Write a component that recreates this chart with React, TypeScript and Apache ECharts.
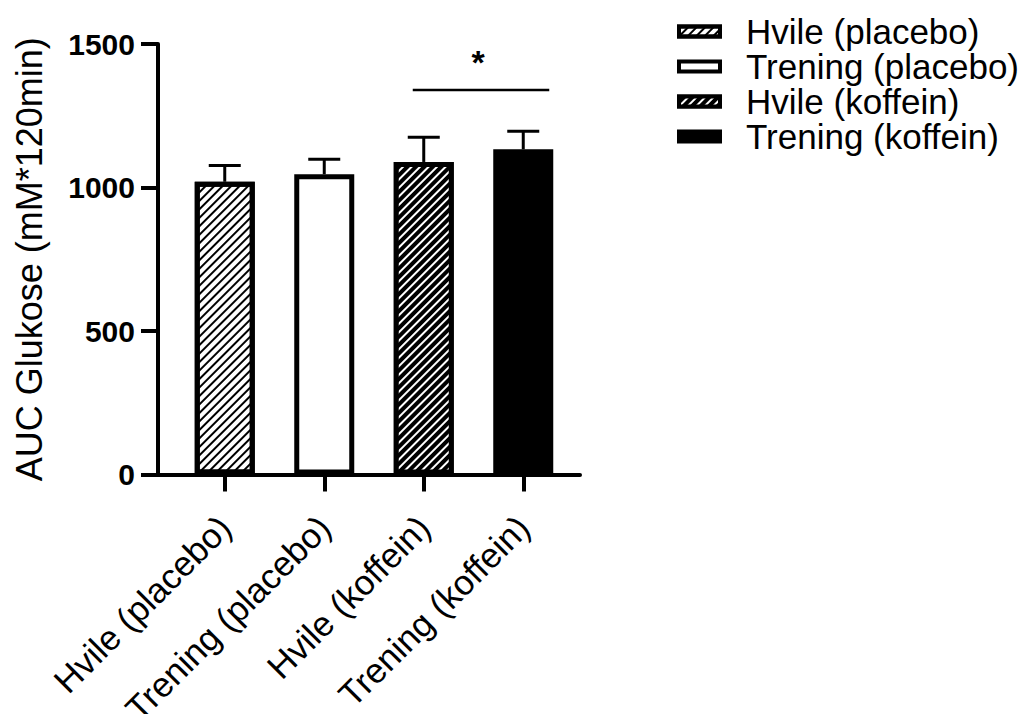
import React, { useEffect, useRef } from "react";
import * as echarts from "echarts";

const categories = ["Hvile (placebo)", "Trening (placebo)", "Hvile (koffein)", "Trening (koffein)"];
const means = [1020, 1046, 1089, 1133];
const sem = [57, 52, 86, 63];
const yMin = 0;
const yMax = 1500;
const yInterval = 500;
const yAxisTitle = "AUC Glukose (mM*120min)";
const significance = [[2, 3, 1340]];
const significanceLabel = "*";

const FONT = "'Liberation Sans', Arial, Helvetica, sans-serif";

const stripes = (lineColor: string) => ({
  symbol: "rect",
  color: lineColor,
  dashArrayX: [1, 0],
  dashArrayY: [2, 4],
  rotation: -Math.PI / 4,
});

const barStyles = [
  { color: "#ffffff", borderColor: "#000", borderWidth: 5, decal: stripes("#000") },
  { color: "#ffffff", borderColor: "#000", borderWidth: 5 },
  { color: "#000000", borderColor: "#000", borderWidth: 5, decal: stripes("#fff") },
  { color: "#000000", borderColor: "#000", borderWidth: 5 },
];

export default function App() {
  const ref = useRef<HTMLDivElement>(null);
  useEffect(() => {
    if (!ref.current) return;
    const chart = echarts.init(ref.current, undefined, { renderer: "svg" });

    const barSeries = categories.map((name, i) => ({
      type: "bar",
      name,
      xAxisIndex: 0,
      yAxisIndex: 0,
      barWidth: 60,
      barGap: "-100%",
      z: 2,
      data: categories.map((_, j) => (j === i ? means[j] : "-")),
      itemStyle: barStyles[i],
    }));

    const option: any = {
      animation: false,
      aria: { enabled: false },
      textStyle: { fontFamily: FONT },
      grid: [
        { left: 175, width: 398, top: 44, bottom: 239.5, containLabel: false, outerBoundsMode: "none" },
        { left: 158, width: 422, top: 44, bottom: 239.5, containLabel: false, outerBoundsMode: "none" },
      ],
      legend: {
        orient: "vertical",
        left: 677,
        top: 14,
        padding: 0,
        itemWidth: 41,
        itemHeight: 10,
        itemGap: 0,
        icon: "rect",
        data: categories,
        itemStyle: { borderWidth: 4, borderColor: "#000" },
        textStyle: {
          fontSize: 35,
          lineHeight: 35,
          color: "#000",
          fontFamily: FONT,
          padding: [0, 0, 0, 21],
        },
      },
      xAxis: [
        {
          type: "category",
          gridIndex: 0,
          data: categories,
          axisLine: { show: false },
          axisTick: {
            show: true,
            alignWithLabel: true,
            length: 17,
            lineStyle: { color: "#000", width: 4 },
          },
          axisLabel: {
            rotate: 45,
            interval: 0,
            margin: 47,
            fontSize: 35,
            color: "#000",
            fontFamily: FONT,
          },
          splitLine: { show: false },
        },
        {
          type: "value",
          gridIndex: 1,
          min: 0,
          max: 1,
          axisLine: { show: true, lineStyle: { color: "#000", width: 4 } },
          axisTick: { show: false },
          axisLabel: { show: false },
          splitLine: { show: false },
        },
      ],
      yAxis: [
        {
          type: "value",
          gridIndex: 0,
          min: yMin,
          max: yMax,
          interval: yInterval,
          show: false,
        },
        {
          type: "value",
          gridIndex: 1,
          min: yMin,
          max: yMax,
          interval: yInterval,
          name: yAxisTitle,
          nameLocation: "middle",
          nameGap: 111,
          nameTextStyle: { fontSize: 36, color: "#000", fontFamily: FONT },
          axisLine: { show: true, lineStyle: { color: "#000", width: 4 } },
          axisTick: { show: true, length: 17, lineStyle: { color: "#000", width: 4 } },
          axisLabel: {
            margin: 23,
            fontSize: 30,
            fontWeight: "bold",
            color: "#000",
            fontFamily: FONT,
            formatter: (v: number) => String(v),
          },
          splitLine: { show: false },
        },
      ],
      series: [
        ...barSeries,
        {
          type: "custom",
          name: "errors",
          xAxisIndex: 0,
          yAxisIndex: 0,
          z: 1,
          encode: { x: 0, y: 1 },
          data: categories.map((_, i) => [i, means[i], sem[i]]),
          renderItem: (params: any, api: any) => {
            const x = api.value(0);
            const m = api.value(1);
            const e = api.value(2);
            const base = api.coord([x, m]);
            const top = api.coord([x, m + e]);
            const half = 16;
            return {
              type: "group",
              children: [
                {
                  type: "line",
                  shape: { x1: base[0], y1: base[1], x2: top[0], y2: top[1] },
                  style: { stroke: "#000", lineWidth: 3 },
                },
                {
                  type: "line",
                  shape: { x1: top[0] - half, y1: top[1], x2: top[0] + half, y2: top[1] },
                  style: { stroke: "#000", lineWidth: 3 },
                },
              ],
            };
          },
        },
        {
          type: "custom",
          name: "significance",
          xAxisIndex: 0,
          yAxisIndex: 0,
          z: 3,
          encode: { x: 0, y: 2 },
          data: significance,
          renderItem: (params: any, api: any) => {
            const level = api.value(2);
            const p1 = api.coord([api.value(0), level]);
            const p2 = api.coord([api.value(1), level]);
            const x1 = p1[0] - 11;
            const x2 = p2[0] + 26;
            return {
              type: "group",
              children: [
                {
                  type: "line",
                  shape: { x1, y1: p1[1], x2, y2: p1[1] },
                  style: { stroke: "#000", lineWidth: 2.5 },
                },
                {
                  type: "text",
                  x: (x1 + x2) / 2 - 3,
                  y: p1[1] - 28,
                  style: {
                    text: significanceLabel,
                    fontSize: 34,
                    fontWeight: "bold",
                    fontFamily: FONT,
                    fill: "#000",
                    align: "center",
                    verticalAlign: "middle",
                  },
                },
              ],
            };
          },
        },
      ],
    };

    chart.setOption(option);
    return () => chart.dispose();
  }, []);

  return (
    <div
      ref={ref}
      style={{ position: "fixed", left: 0, top: 0, width: 1030, height: 714, background: "#fff" }}
    />
  );
}
